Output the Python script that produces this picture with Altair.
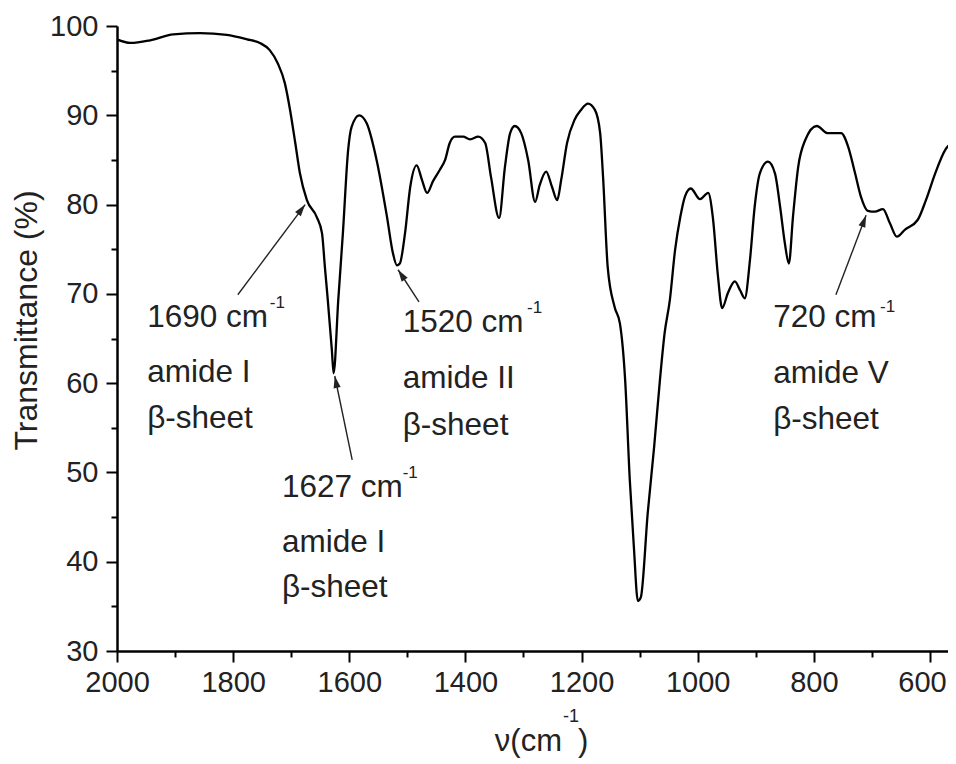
import altair as alt
import pandas as pd

# ---- spectrum (wavenumber cm^-1, transmittance %) ----
wavenumber = [2000, 1977, 1943, 1903, 1857, 1811, 1776, 1754, 1737, 1723, 1711, 1702,
              1693, 1685, 1673, 1656, 1647, 1642, 1637, 1630, 1627, 1619, 1611, 1602,
              1596, 1583, 1570, 1553, 1535, 1525, 1518, 1513, 1504, 1495, 1484, 1475,
              1466, 1456, 1444, 1435, 1427, 1418, 1404, 1392, 1378, 1366, 1356, 1342,
              1332, 1323, 1315, 1304, 1292, 1280, 1272, 1261, 1251, 1242, 1235, 1225,
              1212, 1201, 1189, 1177, 1168, 1163, 1155, 1143, 1134, 1125, 1117, 1110,
              1103, 1098, 1086, 1075, 1065, 1057, 1048, 1039, 1030, 1022, 1012, 996,
              982, 974, 965, 958, 948, 936, 927, 919, 910, 902, 893, 879, 867, 858,
              850, 843, 836, 827, 815, 795, 776, 764, 753, 741, 729, 719, 707, 695,
              681, 669, 657, 643, 621, 607, 591, 574, 555]
transmittance = [98.5, 98.1, 98.4, 99.07, 99.2, 99.0, 98.5, 98.1, 97.3, 95.8, 93.6, 90.6,
                 86.9, 83.5, 80.5, 78.6, 76.8, 73.0, 69.3, 63.7, 61.1, 69.3, 76.8, 86.1,
                 88.7, 90.0, 89.1, 85.0, 78.6, 74.6, 73.2, 73.4, 76.8, 82.0, 84.4, 82.8,
                 81.3, 82.6, 83.9, 85.0, 86.9, 87.6, 87.6, 87.3, 87.6, 86.9, 83.1, 78.5,
                 84.2, 88.0, 88.8, 88.0, 85.0, 80.3, 82.2, 83.7, 82.0, 80.5, 82.8, 86.9,
                 89.5, 90.6, 91.3, 90.6, 88.0, 83.1, 73.0, 68.5, 66.7, 60.4, 49.2, 41.7,
                 35.6, 36.0, 45.5, 52.9, 60.4, 65.6, 69.3, 74.9, 78.6, 80.9, 81.8, 80.6,
                 81.3, 78.6, 71.9, 68.4, 70.1, 71.4, 70.4, 69.5, 73.8, 79.7, 83.5, 84.8,
                 83.5, 79.7, 75.7, 73.4, 78.6, 84.2, 87.2, 88.8, 88.0, 88.0, 88.0, 86.5,
                 83.5, 80.9, 79.3, 79.2, 79.5, 77.9, 76.4, 77.2, 78.3, 80.5, 83.5, 86.1,
                 87.2]

# ---- axes ----
x_ticks = list(range(2000, 599, -100))
y_ticks = list(range(30, 101, 5))

# ---- annotations ----
ann_line1 = ["1690 cm", "1627 cm", "1520 cm", "720 cm"]
ann_line2 = ["amide I", "amide I", "amide II", "amide V"]
ann_line3 = ["β-sheet", "β-sheet", "β-sheet", "β-sheet"]
ann_x = [1948, 1716, 1508, 870]
ann_y1 = [66.3, 47.3, 65.7, 66.3]
ann_y2 = [60.1, 41.1, 59.5, 60.0]
ann_y3 = [55.0, 36.1, 54.2, 54.9]
sup_x = [1737, 1508, 1294, 686]
sup_y = [68.4, 49.4, 67.9, 68.0]

arrow_x_tail = [1792, 1595, 1480, 762]
arrow_y_tail = [69.9, 51.4, 69.1, 69.9]
arrow_x_tip = [1676, 1625, 1516, 710]
arrow_y_tip = [80.0, 60.8, 72.7, 78.8]
arrow_angle = [36.7, 348.6, 326.7, 20.6]

FONT = "Liberation Sans"
W, H = 831, 625

spec = pd.DataFrame({"wn": wavenumber, "T": transmittance})
ann = pd.DataFrame({
    "x": ann_x, "y1": ann_y1, "y2": ann_y2, "y3": ann_y3,
    "t1": ann_line1, "t2": ann_line2, "t3": ann_line3,
    "sx": sup_x, "sy": sup_y, "sup": ["-1"] * 4,
})
arr = pd.DataFrame({"x": arrow_x_tail, "y": arrow_y_tail, "x2": arrow_x_tip,
                    "y2": arrow_y_tip, "ang": arrow_angle})

xscale = alt.Scale(domain=[2000, 569], nice=False, zero=False)
yscale = alt.Scale(domain=[30, 100], nice=False, zero=False)

xaxis = alt.Axis(
    values=x_ticks, title=None, grid=False, format="d",
    labelExpr="datum.value % 200 === 0 ? datum.label : ''",
    tickSize={"condition": {"test": "datum.value % 200 === 0", "value": 11}, "value": 6},
    labelOffset={"condition": {"test": "datum.value === 600", "value": -8}, "value": 0},
    labelPadding=6, labelFlush=False, labelOverlap=False,
)
yaxis = alt.Axis(
    values=y_ticks, title="Transmittance (%)", grid=False, format="d",
    labelExpr="datum.value % 10 === 0 ? datum.label : ''",
    tickSize={"condition": {"test": "datum.value % 10 === 0", "value": 11}, "value": 6},
    labelPadding=8, labelOverlap=False,
    titleX=-81, titleY=294, titleAngle=270, titleAlign="center",
    titleBaseline="alphabetic", titleFontSize=32, titleFont=FONT,
    titleFontWeight="normal", titleColor="#222",
)

line = alt.Chart(spec).mark_line(
    color="black", strokeWidth=2.3, interpolate="monotone", clip=True
).encode(
    x=alt.X("wn:Q", scale=xscale, axis=xaxis),
    y=alt.Y("T:Q", scale=yscale, axis=yaxis),
    order=alt.Order("wn:Q", sort="descending"),
)

def txt(field_y, field_t, size=31.5):
    return alt.Chart(ann).mark_text(
        align="left", baseline="alphabetic", font=FONT, fontSize=size, color="#222"
    ).encode(
        x=alt.X("x:Q", scale=xscale, axis=xaxis),
        y=alt.Y(f"{field_y}:Q", scale=yscale, axis=yaxis),
        text=f"{field_t}:N",
    )

t1 = txt("y1", "t1")
t2 = txt("y2", "t2")
t3 = txt("y3", "t3")
sup = alt.Chart(ann).mark_text(
    align="left", baseline="alphabetic", font=FONT, fontSize=17, color="#222"
).encode(
    x=alt.X("sx:Q", scale=xscale, axis=xaxis),
    y=alt.Y("sy:Q", scale=yscale, axis=yaxis),
    text="sup:N",
)

shafts = alt.Chart(arr).mark_rule(color="#222", strokeWidth=1.4).encode(
    x=alt.X("x:Q", scale=xscale, axis=xaxis),
    y=alt.Y("y:Q", scale=yscale, axis=yaxis),
    x2="x2:Q", y2="y2:Q",
)
heads = alt.Chart(arr).mark_point(
    shape="M0,0 L0.3,1 L-0.3,1 Z", filled=True, color="#222", size=576, opacity=1
).encode(
    x=alt.X("x2:Q", scale=xscale, axis=xaxis),
    y=alt.Y("y2:Q", scale=yscale, axis=yaxis),
    angle=alt.Angle("ang:Q", scale=None),
)

# x-axis title: ν(cm^-1)
xt_main = alt.Chart(pd.DataFrame({"t": ["ν(cm"]})).mark_text(
    align="right", baseline="alphabetic", font=FONT, fontSize=31, color="#222"
).encode(x=alt.value(445), y=alt.value(725), text="t:N")
xt_sup = alt.Chart(pd.DataFrame({"t": ["-1"]})).mark_text(
    align="left", baseline="alphabetic", font=FONT, fontSize=18, color="#222"
).encode(x=alt.value(446), y=alt.value(696), text="t:N")
xt_end = alt.Chart(pd.DataFrame({"t": [")"]})).mark_text(
    align="left", baseline="alphabetic", font=FONT, fontSize=31, color="#222"
).encode(x=alt.value(461), y=alt.value(725), text="t:N")

chart = alt.layer(
    line, shafts, heads, t1, t2, t3, sup, xt_main, xt_sup, xt_end
).properties(
    width=W, height=H,
    autosize=alt.AutoSizeParams(type="none"),
    padding={"left": 109, "top": 18, "right": 0, "bottom": 108},
).configure_view(
    stroke=None
).configure_axis(
    domainColor="black", domainWidth=2.5, tickColor="black", tickWidth=2,
    labelFont=FONT, labelFontSize=29, labelColor="#222",
)

chart.save("out.html", embed_options={"renderer": "svg", "actions": False})
